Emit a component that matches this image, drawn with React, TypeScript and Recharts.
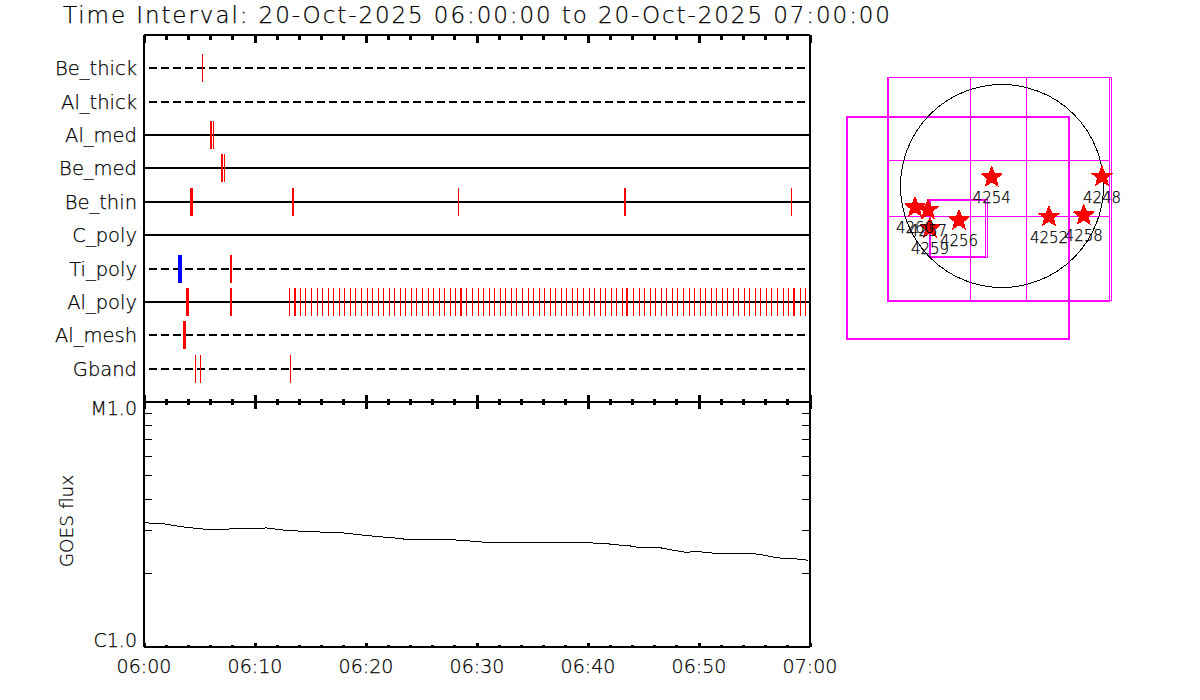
import React from "react";
import {
  LineChart,
  Line,
  ScatterChart,
  Scatter,
  XAxis,
  YAxis,
  ReferenceLine,
  ReferenceArea,
  ReferenceDot,
} from "recharts";

const textStyle = {
  fontFamily: "'DejaVu Sans', sans-serif",
  fontWeight: 200,
  fill: "#000",
  stroke: "#000",
  strokeWidth: 0.25,
};

// minutes after 06:00, one entry per image; neighbouring entries make the wider marks
const beThick = [5.27];
const alThick: number[] = [];
const alMed = [5.99, 6.08, 6.26];
const beMed = [6.98, 7.07, 7.25];
const beThin = [4.19, 4.28, 4.37, 13.38, 13.47, 28.33, 43.29, 43.38, 58.33];
const cPoly: number[] = [];
const tiPolyRed = [7.79, 7.88];
const tiPolyBlue = [3.11, 3.2, 3.29, 3.38];
const alPoly = [
  3.83, 3.92, 4.01, 7.79, 7.88, 13.11, 13.56, 13.65, 14.1, 14.55, 15.09, 15.63, 16.08, 16.62, 17.07,
  17.61, 18.06, 18.6, 19.05, 19.59, 20.14, 20.59, 21.13, 21.58, 22.12, 22.57, 23.11, 23.56, 24.1,
  24.55, 25.09, 25.63, 26.08, 26.62, 27.07, 27.61, 28.06, 28.51, 28.6, 29.05, 29.59, 30.14, 30.59,
  31.13, 31.58, 32.12, 32.57, 33.11, 33.56, 34.1, 34.64, 35.09, 35.63, 36.08, 36.62, 37.07, 37.61,
  38.06, 38.6, 39.05, 39.59, 40.14, 40.59, 41.13, 41.58, 42.12, 42.57, 43.11, 43.47, 43.56, 44.1,
  44.64, 45.09, 45.63, 46.08, 46.62, 47.07, 47.61, 48.06, 48.6, 49.14, 49.59, 50.14, 50.59, 51.13,
  51.58, 52.12, 52.57, 53.11, 53.56, 54.1, 54.55, 55.09, 55.54, 56.08, 56.53, 57.07, 57.61, 58.06,
  58.51, 58.6, 59.14, 59.59,
];
const alMesh = [3.56, 3.65, 3.74];
const gband = [4.64, 5.09, 13.2];

const rowNames = ["Gband", "Al_mesh", "Al_poly", "Ti_poly", "C_poly", "Be_thin", "Be_med", "Al_med", "Al_thick", "Be_thick"];
const rowTimes = [gband, alMesh, alPoly, tiPolyRed, cPoly, beThin, beMed, alMed, alThick, beThick];
const dashedRows = ["Gband", "Al_mesh", "Ti_poly", "Al_thick", "Be_thick"];

// GOES curve, in C-class units
const goesTimes = [
  0, 1.44, 3.54, 5.65, 7.45, 8.02, 11.05, 12.88, 15.56, 17.66, 20.06, 22.43, 23.67, 26.49, 28.47, 30.54,
  37.48, 41.44, 42.59, 43.49, 44.53, 46.33, 47.54, 48.89, 49.64, 50.69, 51.59, 54.44, 55.5, 56.85, 57.59,
  58.65, 59.85,
];
const goesFlux = [
  3.21, 3.2, 3.09, 3.02, 3.02, 3.05, 3.06, 2.99, 2.95, 2.93, 2.85, 2.79, 2.75, 2.75, 2.73, 2.68, 2.68, 2.65,
  2.61, 2.6, 2.55, 2.55, 2.49, 2.43, 2.46, 2.43, 2.41, 2.41, 2.39, 2.32, 2.3, 2.29, 2.26,
];
const fluxTicks = [1, 2, 3, 4, 5, 6, 7, 8, 9, 10];
const timeTicks = [0, 2, 4, 6, 8, 10, 12, 14, 16, 18, 20, 22, 24, 26, 28, 30, 32, 34, 36, 38, 40, 42, 44, 46, 48, 50, 52, 54, 56, 58, 60];
const timeLabels: Record<number, string> = { 0: "06:00", 10: "06:10", 20: "06:20", 30: "06:30", 40: "06:40", 50: "06:50", 60: "07:00" };

// solar map, arcsec
const regionNames = ["4254", "4248", "4252", "4258", "4256", "4260", "4257", "4259"];
const regionX = [-103, 1000, 470, 817, -430, -870, -740, -720];
const regionY = [87, 93, -307, -293, -343, -213, -240, -423];
const fovThin = [
  [-1135, -315, -1140, 1085],
  [-315, 245, -1140, 1085],
  [245, 1070, -1140, 1085],
  [-1135, 1070, -305, 255],
  [-1135, 1090, -1140, 1085],
  [-1145, 1070, -1150, 1085],
  [-720, -163, -700, -140],
  [-725, -147, -710, -130],
];
const fovThick = [[-1550, 670, -1525, 690]];

const rowData = (times: number[], row: number) => times.map((t) => ({ t, row }));
const goesData = goesTimes.map((t, i) => ({ t, flux: goesFlux[i] }));
const regionData = regionNames.map((name, i) => ({ name, x: regionX[i], y: regionY[i] }));

const axisLine = { stroke: "#000", strokeWidth: 2 };

const Mark = (color: string) => (props: any) => (
  <rect x={Math.floor(props.cx)} y={Math.round(props.cy) - 14} width={1} height={28} fill={color} stroke="none" />
);
const NoMark = () => <g />;

const timeTick = (dir: number, minor: number, major: number, showLabel = false) => (props: any) => {
  const { x, y, payload } = props;
  const isMajor = payload.value % 10 === 0;
  return (
    <g>
      <line x1={x} x2={x} y1={y} y2={y + dir * (isMajor ? major : minor)} stroke="#000" strokeWidth={3} />
      {showLabel && isMajor ? (
        <text x={x} y={y + 26} textAnchor="middle" fontSize={19} {...textStyle}>
          {timeLabels[payload.value]}
        </text>
      ) : null}
    </g>
  );
};

const RowTick = (props: any) => (
  <text x={props.x - 7} y={props.y + 7} textAnchor="end" fontSize={19.5} {...textStyle}>
    {rowNames[props.payload.value - 1]}
  </text>
);

const FluxTick = (side: number) => (props: any) => {
  const { x, y, payload } = props;
  const v = payload.value;
  if (v === 1 || v === 10) {
    if (side < 0) return <g />;
    return (
      <text x={x - 7} y={v === 10 ? y + 13 : y} textAnchor="end" fontSize={19} {...textStyle}>
        {v === 10 ? "M1.0" : "C1.0"}
      </text>
    );
  }
  return <line x1={x} x2={x + side * 8} y1={y} y2={y} stroke="#000" strokeWidth={1} />;
};

const FluxLabel = () => (
  <text x={73} y={521} transform="rotate(-90 73 521)" textAnchor="middle" fontSize={18.5} {...textStyle}>
    GOES flux
  </text>
);

const Star = (props: any) => {
  const { cx, cy } = props;
  const pts: string[] = [];
  for (let i = 0; i < 10; i++) {
    const r = i % 2 === 0 ? 12 : 5.2;
    const a = (Math.PI / 5) * i - Math.PI / 2;
    pts.push(`${cx + r * Math.cos(a)},${cy + r * Math.sin(a)}`);
  }
  return <polygon points={pts.join(" ")} fill="#ff0000" />;
};

const RegionLabel = (props: any) => (
  <text x={props.cx} y={props.cy + 26} textAnchor="middle" fontSize={15} {...textStyle}>
    {props.payload.name}
  </text>
);

const layer: React.CSSProperties = { position: "absolute", left: 0, top: 0 };

export default function App() {
  return (
    <div style={{ position: "fixed", left: 0, top: 0, width: 1200, height: 700, background: "#fff", shapeRendering: "crispEdges" }}>
      <svg width={1200} height={34} style={layer}>
        <text x={63} y={23} fontSize={23} textLength={827} lengthAdjust="spacing" {...textStyle}>
          Time Interval: 20-Oct-2025 06:00:00 to 20-Oct-2025 07:00:00
        </text>
      </svg>

      <div style={layer}>
        <ScatterChart width={840} height={420} margin={{ top: 34, right: 29, bottom: 17, left: 0 }}>
          <XAxis xAxisId="top" orientation="top" type="number" dataKey="t" domain={[0, 60]} ticks={timeTicks} height={1} tickSize={0} tickMargin={0} tickLine={false} axisLine={axisLine} tick={timeTick(1, 5, 8)} interval={0} />
          <XAxis xAxisId="bottom" orientation="bottom" type="number" dataKey="t" domain={[0, 60]} ticks={timeTicks} height={1} tickSize={0} tickMargin={0} tickLine={false} axisLine={axisLine} tick={timeTick(-1, 3, 7)} interval={0} />
          <YAxis yAxisId="left" type="number" dataKey="row" domain={[0, 11]} ticks={rowNames.map((_, i) => i + 1)} width={144} tickSize={0} tickMargin={0} tickLine={false} axisLine={axisLine} tick={RowTick} interval={0} />
          <YAxis yAxisId="right" orientation="right" type="number" dataKey="row" domain={[0, 11]} width={1} tick={false} tickLine={false} axisLine={axisLine} />
          {rowNames.map((name, i) => (
            <ReferenceLine
              key={name}
              xAxisId="bottom"
              yAxisId="left"
              y={i + 1}
              stroke="#000"
              strokeWidth={2}
              strokeDasharray={dashedRows.includes(name) ? "8 4" : undefined}
              strokeDashoffset={7.3}
            />
          ))}
          {/* the top axis only gets its ticks when a series is bound to it */}
          <Scatter xAxisId="top" yAxisId="left" data={rowData(gband, 1)} shape={NoMark} isAnimationActive={false} />
          {rowTimes.map((times, i) => (
            <Scatter key={rowNames[i]} xAxisId="bottom" yAxisId="left" data={rowData(times, i + 1)} shape={Mark("#ff0000")} isAnimationActive={false} />
          ))}
          <Scatter xAxisId="bottom" yAxisId="left" data={rowData(tiPolyBlue, 4)} shape={Mark("#0000ff")} isAnimationActive={false} />
        </ScatterChart>
      </div>

      <div style={layer}>
        <LineChart width={840} height={700} data={goesData} margin={{ top: 401, right: 29, bottom: 0, left: 0 }}>
          <XAxis xAxisId="top" orientation="top" type="number" dataKey="t" domain={[0, 60]} ticks={timeTicks} height={1} tickSize={0} tickMargin={0} tickLine={false} axisLine={axisLine} tick={timeTick(1, 3, 7)} interval={0} />
          <XAxis xAxisId="bottom" orientation="bottom" type="number" dataKey="t" domain={[0, 60]} ticks={timeTicks} height={53} tickSize={0} tickMargin={0} tickLine={false} axisLine={axisLine} tick={timeTick(-1, 2, 4, true)} interval={0} />
          <YAxis
            yAxisId="left"
            type="number"
            scale="log"
            domain={[1, 10]}
            allowDataOverflow
            ticks={fluxTicks}
            width={144}
            tickSize={0}
            tickMargin={0}
            tickLine={false}
            axisLine={axisLine}
            tick={FluxTick(1)}
            interval={0}
            label={{ content: FluxLabel }}
          />
          <YAxis yAxisId="right" orientation="right" type="number" scale="log" domain={[1, 10]} allowDataOverflow ticks={fluxTicks} width={1} tickSize={0} tickMargin={0} tickLine={false} axisLine={axisLine} tick={FluxTick(-1)} interval={0} />
          <Line xAxisId="bottom" yAxisId="left" dataKey="flux" stroke="#000" strokeWidth={1} dot={false} isAnimationActive={false} />
        </LineChart>
      </div>

      <div style={{ ...layer, left: 840, top: 70 }}>
        <ScatterChart width={290} height={280} margin={{ top: 0, right: 0, bottom: 0, left: 0 }}>
          <XAxis type="number" dataKey="x" domain={[-1620, 1280]} hide />
          <YAxis type="number" dataKey="y" domain={[-1640, 1160]} hide />
          <ReferenceDot x={0} y={0} r={101.5} fill="none" stroke="#000" strokeWidth={1} />
          {fovThin.map((b, i) => (
            <ReferenceArea key={`thin-${i}`} x1={b[0]} x2={b[1]} y1={b[2]} y2={b[3]} fill="none" fillOpacity={0} stroke="#ff00ff" strokeWidth={1} />
          ))}
          {fovThick.map((b, i) => (
            <ReferenceArea key={`thick-${i}`} x1={b[0]} x2={b[1]} y1={b[2]} y2={b[3]} fill="none" fillOpacity={0} stroke="#ff00ff" strokeWidth={2} />
          ))}
          <Scatter data={regionData} shape={Star} isAnimationActive={false} />
          <Scatter data={regionData} shape={RegionLabel} isAnimationActive={false} />
        </ScatterChart>
      </div>
    </div>
  );
}
